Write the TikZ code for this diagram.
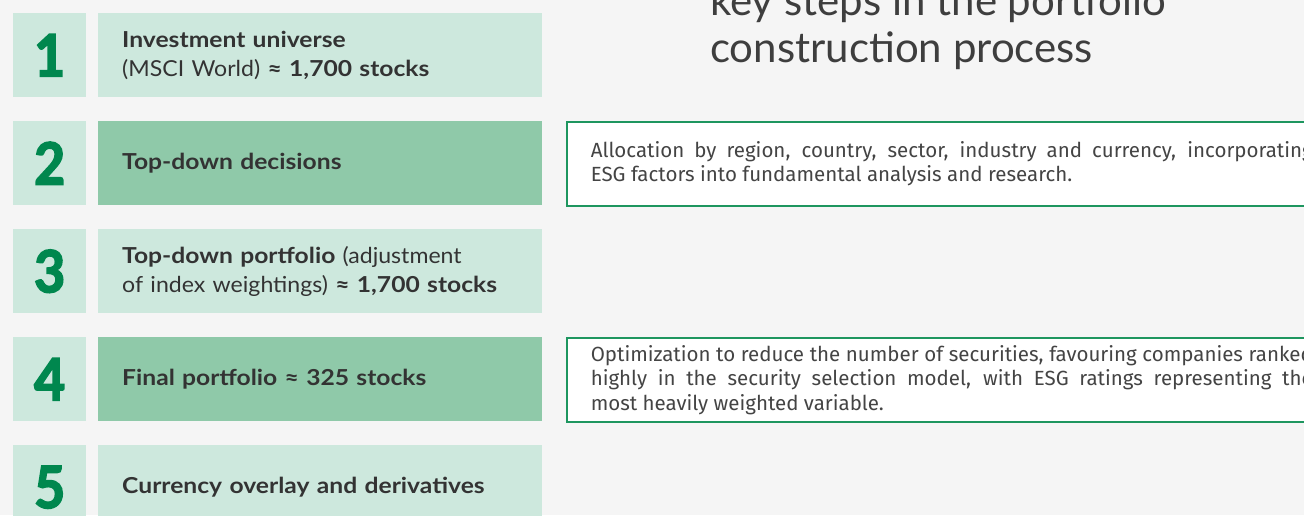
\documentclass[tikz,border=0pt]{standalone}
\usepackage{fontspec}
\setmainfont{Lato}
\newfontfamily\lfont{Lato}[UprightFeatures={FakeStretch=1.05},BoldFeatures={FakeStretch=1.12}]
\newfontfamily\rfont{Fira Sans}
\newfontfamily\numfont{Lato}[FakeStretch=0.92,BoldFeatures={FakeBold=3}]
\definecolor{bgc}{RGB}{245,245,245}
\definecolor{mint}{RGB}{205,232,221}
\definecolor{midg}{RGB}{143,201,169}
\definecolor{dgreen}{RGB}{0,135,78}
\definecolor{bordg}{RGB}{30,150,95}
\definecolor{txt}{RGB}{51,51,51}
\definecolor{ttxt}{RGB}{62,62,62}
\definecolor{rtxt}{RGB}{68,68,68}
\begin{document}
\begin{tikzpicture}[x=1pt,y=-1pt,
  numbox/.style={anchor=north west, fill=mint, minimum width=73pt, minimum height=84pt, inner sep=0pt,
    text=dgreen, font=\numfont\bfseries\fontsize{58}{58}\selectfont},
  stepbox/.style={anchor=north west, fill=mint, minimum width=444pt, minimum height=84pt,
    inner xsep=24pt, inner ysep=0pt, text width=396pt, align=left, text=txt,
    font=\lfont\fontsize{22}{29}\selectfont},
  hibox/.style={stepbox, fill=midg},
  descbox/.style={anchor=north west, fill=white, draw=bordg, line width=1.5pt, minimum height=84pt,
    inner xsep=24pt, inner ysep=0pt, text width=722pt, align=justify, text=rtxt,
    font=\rfont\fontsize{20.5}{24.5}\selectfont},
  titletxt/.style={anchor=base west, inner sep=0pt, text=ttxt, font=\fontsize{42}{47}\selectfont}
]
\useasboundingbox (0,0) rectangle (1304,515);
\clip (0,0) rectangle (1304,515);
\fill[bgc] (0,0) rectangle (1304,515);

% title
\node[titletxt] (title1) at (710,15) {key steps in the portfolio};
\node[titletxt] (title2) at (710,62) {construction process};

% steps
\node[numbox] (n1) at (13,13) {1};
\node[stepbox] (s1) at (98,13) {\textbf{Investment universe}\\(MSCI World) \textbf{≈ 1,700 stocks}};

\node[numbox] (n2) at (13,121) {2};
\node[hibox] (s2) at (98,121) {\textbf{Top-down decisions}};

\node[numbox] (n3) at (13,229) {3};
\node[stepbox] (s3) at (98,229) {\textbf{Top-down portfolio} (adjustment\\of index weightings) \textbf{≈ 1,700 stocks}};

\node[numbox] (n4) at (13,337) {4};
\node[hibox] (s4) at (98,337) {\textbf{Final portfolio ≈ 325 stocks}};

\node[numbox] (n5) at (13,445) {5};
\node[stepbox] (s5) at (98,445) {\textbf{Currency overlay and derivatives}};

% descriptions
\node[descbox] (d2) at (566,121) {Allocation by region, country, sector, industry and currency, incorporating\linebreak ESG factors into fundamental analysis and research.};
\node[descbox] (d4) at (566,337) {Optimization to reduce the number of securities, favouring companies ranked\linebreak highly in the security selection model, with ESG ratings representing the\linebreak most heavily weighted variable.};
\end{tikzpicture}
\end{document}
